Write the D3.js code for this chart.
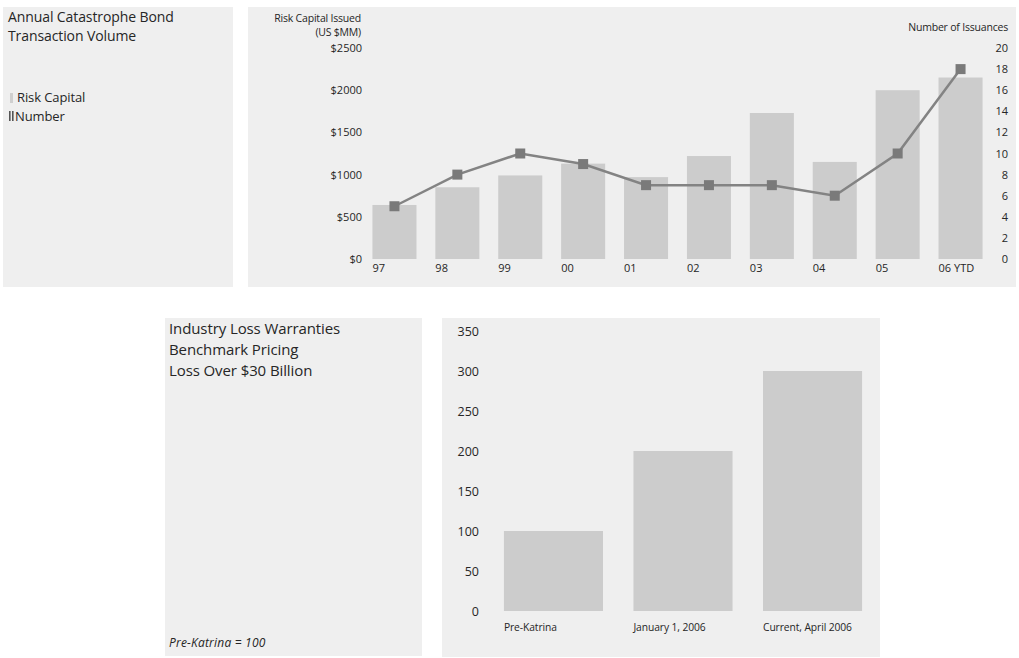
<!DOCTYPE html>
<html>
<head>
  <meta charset="UTF-8">
  <style>
    body { margin: 0; background: #fff; }
    svg { display: block; font-family: "Open Sans", sans-serif; }
  </style>
</head>
<body>
<svg></svg>
<script src="https://d3js.org/d3.v7.min.js"></script>
<script>

// data
let years = ["97", "98", "99", "00", "01", "02", "03", "04", "05", "06 YTD"];
let riskCapital = [640, 850, 990, 1130, 970, 1220, 1730, 1150, 2000, 2150];
let issuances = [5, 8, 10, 9, 7, 7, 7, 6, 10, 18];
let capitalTicks = [0, 500, 1000, 1500, 2000, 2500];
let countTicks = [0, 2, 4, 6, 8, 10, 12, 14, 16, 18, 20];

let ilwCategories = ["Pre-Katrina", "January 1, 2006", "Current, April 2006"];
let ilwValues = [100, 200, 300];
let ilwTicks = [0, 50, 100, 150, 200, 250, 300, 350];

let width = 1019, height = 658;
let panelFill = "#efefef", barFill = "#cccccc", lineColor = "#838383", markColor = "#7a7a7a", textColor = "#262626";

let svg = d3.select("svg")
    .attr("width", width)
    .attr("height", height);

// panels
let panels = [
    [3, 7, 230, 280],
    [248, 7, 768, 280],
    [165, 318, 257, 338],
    [442, 318, 438, 339]
];
svg.append("g").selectAll("rect")
    .data(panels)
    .enter()
    .append("rect")
    .attr("x", d => d[0]).attr("y", d => d[1])
    .attr("width", d => d[2]).attr("height", d => d[3])
    .attr("fill", panelFill);

// ---- top chart ----
let x1 = d3.scaleBand().domain(years).range([363, 992]).paddingInner(0.3).paddingOuter(0.15);
let yCap = d3.scaleLinear().domain([0, 2500]).range([259, 48]);
let yNum = d3.scaleLinear().domain([0, 20]).range([259, 48]);

let topChart = svg.append("g");

topChart.selectAll("rect.bar")
    .data(years)
    .enter()
    .append("rect")
    .attr("class", "bar")
    .attr("x", d => x1(d))
    .attr("y", (d, i) => yCap(riskCapital[i]))
    .attr("width", x1.bandwidth())
    .attr("height", (d, i) => yCap(0) - yCap(riskCapital[i]))
    .attr("fill", barFill);

let line = d3.line()
    .x((d, i) => x1(years[i]) + x1.bandwidth() / 2)
    .y(d => yNum(d));

topChart.append("path")
    .datum(issuances)
    .attr("d", line)
    .attr("fill", "none")
    .attr("stroke", lineColor)
    .attr("stroke-width", 2.5);

topChart.selectAll("rect.mark")
    .data(issuances)
    .enter()
    .append("rect")
    .attr("class", "mark")
    .attr("x", (d, i) => x1(years[i]) + x1.bandwidth() / 2 - 5)
    .attr("y", d => yNum(d) - 5)
    .attr("width", 10)
    .attr("height", 10)
    .attr("fill", markColor);

// axes (labels only)
let leftAxis = topChart.append("g")
    .attr("transform", "translate(362,0)")
    .call(d3.axisLeft(yCap).tickValues(capitalTicks).tickSize(0).tickPadding(0).tickFormat(d => "$" + d));
let rightAxis = topChart.append("g")
    .attr("transform", "translate(1008,0)")
    .call(d3.axisLeft(yNum).tickValues(countTicks).tickSize(0).tickPadding(0));
let bottomAxis = topChart.append("g")
    .attr("transform", "translate(0,259)")
    .call(d3.axisBottom(x1).tickSize(0).tickPadding(0));

[leftAxis, rightAxis, bottomAxis].forEach(a => {
    a.select(".domain").remove();
    a.selectAll("text").attr("fill", textColor).attr("font-size", "11px").attr("font-family", "Open Sans");
});
bottomAxis.selectAll(".tick text")
    .attr("text-anchor", "start")
    .attr("x", -x1.bandwidth() / 2)
    .attr("dy", "1.2em");

topChart.append("text").attr("x", 361).attr("y", 22).attr("text-anchor", "end")
    .attr("font-size", "10.5px").attr("fill", textColor).attr("letter-spacing", "-0.2").text("Risk Capital Issued");
topChart.append("text").attr("x", 361).attr("y", 36).attr("text-anchor", "end")
    .attr("font-size", "10.5px").attr("fill", textColor).attr("letter-spacing", "-0.2").text("(US $MM)");
topChart.append("text").attr("x", 1008).attr("y", 31).attr("text-anchor", "end")
    .attr("font-size", "10.5px").attr("fill", textColor).attr("letter-spacing", "-0.2").text("Number of Issuances");

// top-left title and legend
let tl = svg.append("g").attr("fill", textColor);
["Annual Catastrophe Bond", "Transaction Volume"].forEach((t, i) => {
    tl.append("text").attr("x", 8).attr("y", 22 + i * 19)
        .attr("font-size", "14px").attr("letter-spacing", "-0.1").text(t);
});
tl.append("rect").attr("x", 10).attr("y", 93).attr("width", 3).attr("height", 10).attr("fill", "#cfcfcf");
tl.append("text").attr("x", 17).attr("y", 102).attr("font-size", "13px").attr("letter-spacing", "-0.1").text("Risk Capital");
tl.append("rect").attr("x", 9).attr("y", 111).attr("width", 1.6).attr("height", 10).attr("fill", "#555");
tl.append("rect").attr("x", 12).attr("y", 111).attr("width", 1.6).attr("height", 10).attr("fill", "#555");
tl.append("text").attr("x", 15).attr("y", 121).attr("font-size", "13px").attr("letter-spacing", "-0.1").text("Number");

// ---- bottom chart ----
let x2 = d3.scaleBand().domain(ilwCategories).range([478, 888]).paddingInner(0.235).paddingOuter(0.2);
let y2 = d3.scaleLinear().domain([0, 350]).range([611, 331]);

let bot = svg.append("g");
bot.selectAll("rect")
    .data(ilwCategories)
    .enter()
    .append("rect")
    .attr("x", d => x2(d))
    .attr("y", (d, i) => y2(ilwValues[i]))
    .attr("width", x2.bandwidth())
    .attr("height", (d, i) => y2(0) - y2(ilwValues[i]))
    .attr("fill", barFill);

let leftAxis2 = bot.append("g")
    .attr("transform", "translate(479,0)")
    .call(d3.axisLeft(y2).tickValues(ilwTicks).tickSize(0).tickPadding(0));
let bottomAxis2 = bot.append("g")
    .attr("transform", "translate(0,611)")
    .call(d3.axisBottom(x2).tickSize(0).tickPadding(0));
[leftAxis2, bottomAxis2].forEach(a => {
    a.select(".domain").remove();
    a.selectAll("text").attr("fill", textColor).attr("font-family", "Open Sans");
});
leftAxis2.selectAll("text").attr("font-size", "12.5px");
bottomAxis2.selectAll(".tick text")
    .attr("font-size", "10.3px")
    .attr("letter-spacing", "-0.1")
    .attr("text-anchor", "start")
    .attr("x", -x2.bandwidth() / 2)
    .attr("dy", "1.9em");

let bl = svg.append("g").attr("fill", textColor);
["Industry Loss Warranties", "Benchmark Pricing", "Loss Over $30 Billion"].forEach((t, i) => {
    bl.append("text").attr("x", 169).attr("y", 334 + i * 21)
        .attr("font-size", "15px").attr("letter-spacing", "-0.1").text(t);
});
bl.append("text").attr("x", 169).attr("y", 647).attr("font-size", "12px")
    .attr("font-style", "italic").attr("letter-spacing", "0.2").text("Pre-Katrina = 100");

</script>
</body>
</html>
